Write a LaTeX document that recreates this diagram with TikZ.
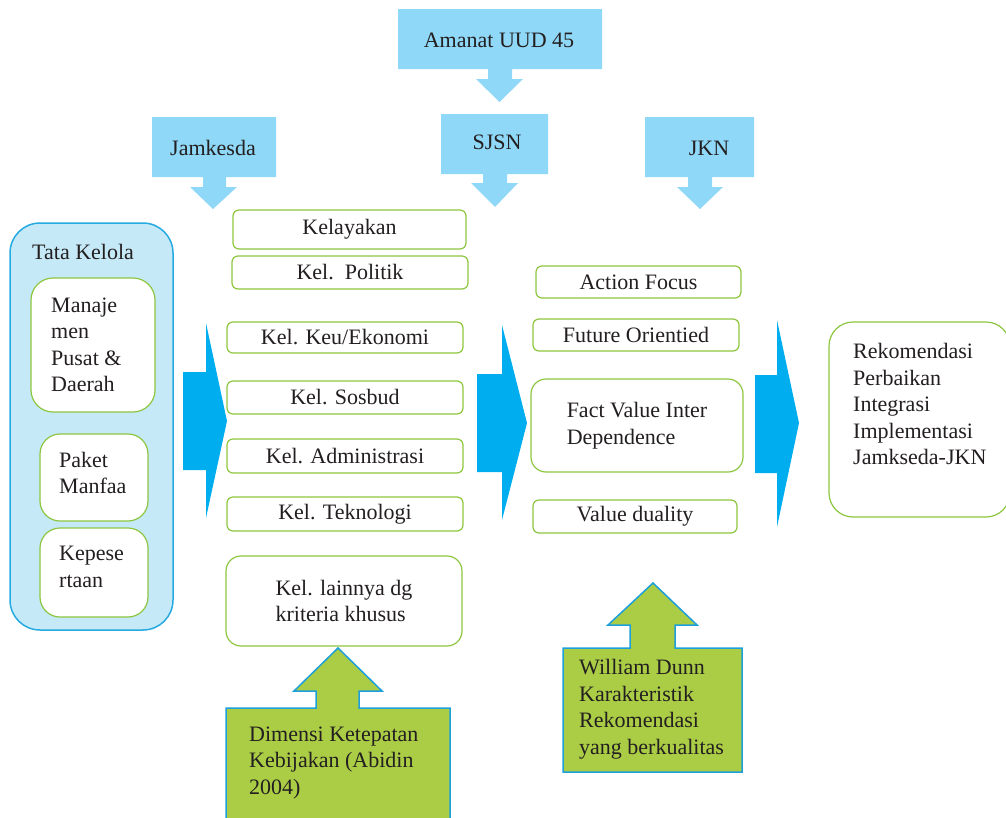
\documentclass[tikz,border=0pt]{standalone}
\usepackage{fontspec}
\setmainfont{Liberation Serif}
\definecolor{callblue}{HTML}{8FD8F7}
\definecolor{arrowblue}{HTML}{00AEEF}
\definecolor{tkfill}{HTML}{C6E9F8}
\definecolor{tkdraw}{HTML}{27AAE1}
\definecolor{boxgreen}{HTML}{8DC63F}
\definecolor{fillgreen}{HTML}{ABCD45}
\definecolor{upblue}{HTML}{1C9FDB}
\definecolor{txtgray}{HTML}{231F20}
\begin{document}
\begin{tikzpicture}[x=1pt,y=-1pt,
  every node/.style={text=txtgray, font=\fontsize{22}{26.5}\selectfont},
  calloutshape/.style={fill=callblue, draw=none},
  bigarrow/.style={fill=arrowblue, draw=none},
  upcall/.style={fill=fillgreen, draw=upblue, line width=1.5pt, line join=miter},
  gbox/.style={draw=boxgreen, line width=1.2pt, fill=white, rounded corners=6pt, inner sep=0pt},
  tbox/.style={draw=boxgreen, line width=1.2pt, fill=white, inner sep=0pt},
  lefttext/.style={align=left, inner sep=0pt, anchor=west},
  ctext/.style={inner sep=0pt}]
\useasboundingbox (0,0) rectangle (1006,817);
\clip (0,0) rectangle (1006,817);

% ---- top callouts (down arrows)
\path[calloutshape] (398,9) -- (602,9) -- (602,69) -- (512,69) -- (512,79) -- (523,79) -- (499.5,102) -- (476,79) -- (488,79) -- (488,69) -- (398,69) -- cycle;
\node[ctext] (amanat) at (499,40) {Amanat UUD 45};

\path[calloutshape] (441,114) -- (548,114) -- (548,174) -- (507,174) -- (507,183) -- (518,183) -- (495,207) -- (471,183) -- (483,183) -- (483,174) -- (441,174) -- cycle;
\node[ctext] (sjsn) at (497,142) {SJSN};

\path[calloutshape] (152,117) -- (276,117) -- (276,177) -- (226,177) -- (226,187) -- (237,187) -- (213,209) -- (190,187) -- (203,187) -- (203,177) -- (152,177) -- cycle;
\node[ctext] (jamkesda) at (213,148) {Jamkesda};

\path[calloutshape] (645,117) -- (754,117) -- (754,177) -- (712,177) -- (712,187) -- (723,187) -- (700,209) -- (677,187) -- (688,187) -- (688,177) -- (645,177) -- cycle;
\node[ctext] (jkn) at (709,148) {JKN};

% ---- Tata Kelola group
\draw[fill=tkfill, draw=tkdraw, line width=1.5pt, rounded corners=30pt] (10,223) rectangle (173,630);
\node[lefttext] (tata) at (32,252) {Tata Kelola};
\draw[tbox, rounded corners=22pt] (31,278) rectangle (155,412);
\node[lefttext] (manaj) at (51,345) {Manaje\\men\\Pusat \&\\Daerah};
\draw[tbox, rounded corners=20pt] (40,434) rectangle (148,521);
\node[lefttext] (paket) at (59,473) {Paket\\Manfaa};
\draw[tbox, rounded corners=20pt] (40,528) rectangle (148,617);
\node[lefttext] (kepes) at (59,567) {Kepese\\rtaan};

% ---- big arrows
\path[bigarrow] (183,372) -- (206,372) -- (206,323) -- (227,421) -- (206,518) -- (206,470) -- (183,470) -- cycle;
\path[bigarrow] (477,374) -- (502,374) -- (502,325) -- (527,423) -- (502,520) -- (502,472) -- (477,472) -- cycle;
\path[bigarrow] (755,375) -- (777,375) -- (777,320) -- (799,423) -- (777,527) -- (777,473) -- (755,473) -- cycle;

% ---- middle column
\node[gbox, minimum width=233pt, minimum height=39pt] (kelayakan) at (349.5,229.5) {Kelayakan};
\node[gbox, minimum width=236pt, minimum height=33pt] (politik) at (350,272.5) {Kel.\ \ Politik};
\node[gbox, minimum width=236pt, minimum height=31pt] (keu) at (345,337.5) {Kel. Keu/Ekonomi};
\node[gbox, minimum width=236pt, minimum height=33pt] (sosbud) at (345,397.5) {Kel. Sosbud};
\node[gbox, minimum width=236pt, minimum height=34pt] (admin) at (345,456) {Kel. Administrasi};
\node[gbox, minimum width=236pt, minimum height=34pt] (tekno) at (345,514) {Kel. Teknologi};
\node[gbox, rounded corners=15pt, minimum width=236pt, minimum height=90pt, align=left] (lainnya) at (344,601) {Kel. lainnya dg\\kriteria khusus};

% ---- right column
\node[gbox, minimum width=205pt, minimum height=32pt] (action) at (638.5,282) {Action Focus};
\node[gbox, minimum width=206pt, minimum height=32pt] (future) at (636,335) {Future Orientied};
\node[gbox, rounded corners=15pt, minimum width=212pt, minimum height=93pt, align=left] (fact) at (637,425.5) {Fact Value Inter\\Dependence};
\node[gbox, minimum width=204pt, minimum height=33pt] (value) at (635,516.5) {Value duality};

% ---- recommendation
\draw[tbox, rounded corners=24pt] (829,322) rectangle (1010,517);
\node[lefttext] (rekom) at (853,404) {Rekomendasi\\Perbaikan\\Integrasi\\Implementasi\\Jamkseda-JKN};

% ---- up callouts
\draw[upcall] (338,648) -- (382,691) -- (359,691) -- (359,708) -- (450,708) -- (450,830) -- (226,830) -- (226,708) -- (316,708) -- (316,691) -- (294,691) -- cycle;
\node[lefttext] (dimensi) at (249,763) {Dimensi Ketepatan\\Kebijakan (Abidin\\2004)};

\draw[upcall] (653,583) -- (697,625) -- (675,625) -- (675,648) -- (742,648) -- (742,772) -- (563,772) -- (563,648) -- (630,648) -- (630,625) -- (608,625) -- cycle;
\node[lefttext] (dunn) at (579,709) {William Dunn\\Karakteristik\\Rekomendasi\\yang berkualitas};
\end{tikzpicture}
\end{document}
